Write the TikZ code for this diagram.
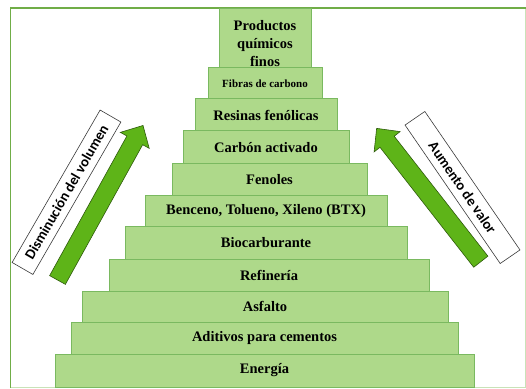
\documentclass[tikz,border=0pt]{standalone}
\usepackage{fontspec}
\setmainfont{Liberation Serif}
\newfontfamily\tierfont{Liberation Serif}
\newfontfamily\lblfont{Carlito}
\definecolor{tierfill}{HTML}{AED98A}
\definecolor{tierdraw}{HTML}{7AB960}
\definecolor{arrfill}{HTML}{5EB418}
\definecolor{arrdraw}{HTML}{2E5A0C}
\definecolor{frame}{HTML}{70AD47}
\definecolor{framelight}{HTML}{C9E2B8}
\definecolor{lbldraw}{HTML}{3A3A3A}
\tikzset{
  tier/.style={draw=tierdraw, fill=tierfill, line width=1pt, inner sep=0pt,
    font=\tierfont\bfseries\fontsize{14.5}{17}\selectfont, text=black},
  lblbox/.style={draw=lbldraw, fill=white, line width=0.6pt, inner sep=0pt,
    minimum height=24pt, font=\lblfont\bfseries\fontsize{14.5}{16}\selectfont, text=black},
  bigarrow/.style={fill=arrfill, draw=arrdraw, line width=0.6pt, line join=miter}
}
\begin{document}
\begin{tikzpicture}[x=1pt,y=1pt]
\useasboundingbox (0,0) rectangle (526,388);
% frame
\draw[framelight, line width=1pt] (525.5,380) -- (525.5,0.5) -- (10.5,0.5);
\draw[frame, line width=2pt] (10,380) -- (526,380);
\draw[frame, line width=1.5pt] (10.5,381) -- (10.5,0);
% tiers
\node[tier, minimum width=92pt, minimum height=59pt] (prod) at (265,349.5) {};
\node[font=\tierfont\bfseries\fontsize{14.5}{18}\selectfont, align=center, text=black, inner sep=0pt] (prodtxt) at (265,344.5) {Productos\\químicos\\finos};
\node[tier, minimum width=114pt, minimum height=31pt, font=\tierfont\bfseries\fontsize{11}{13}\selectfont] (fibras) at (265,304.5) {Fibras de carbono};
\node[tier, minimum width=142pt, minimum height=32pt] (resinas) at (266,273) {Resinas fenólicas};
\node[tier, minimum width=166pt, minimum height=32.5pt] (carbon) at (266,240.75) {Carbón activado};
\node[tier, minimum width=195pt, minimum height=32pt] (fenoles) at (269.5,208.5) {Fenoles};
\node[tier, minimum width=242pt, minimum height=31.5pt] (btx) at (266,176.75) {Benceno, Tolueno, Xileno (BTX)};
\node[tier, minimum width=282pt, minimum height=32pt] (bio) at (266,145) {Biocarburante};
\node[tier, minimum width=320pt, minimum height=32pt] (refi) at (269,113) {Refinería};
\node[tier, minimum width=366pt, minimum height=31pt] (asfalto) at (265,81.5) {Asfalto};
\node[tier, minimum width=387pt, minimum height=32pt] (aditivos) at (264.5,50) {Aditivos para cementos};
\node[tier, minimum width=419pt, minimum height=33pt] (energia) at (264.5,17.5) {Energía};
% left arrow
\begin{scope}[shift={(57.5,108)}, rotate=61.04]
  \draw[bigarrow] (0,-9) -- (159.6,-9) -- (159.6,-16.5) -- (176.6,0) -- (159.6,16.5) -- (159.6,9) -- (0,9) -- cycle;
\end{scope}
% right arrow
\begin{scope}[shift={(480.8,126.3)}, rotate=128.0]
  \draw[bigarrow] (0,-9) -- (152.2,-9) -- (152.2,-16.5) -- (169.2,0) -- (152.2,16.5) -- (152.2,9) -- (0,9) -- cycle;
\end{scope}
% labels
\node[lblbox, rotate=60, minimum width=176pt] (vol) at (66.5,195.75) {Disminución del volumen};
\node[lblbox, rotate=-55.5, minimum width=168pt] (valor) at (462.5,200.5) {Aumento de valor};
\end{tikzpicture}
\end{document}
